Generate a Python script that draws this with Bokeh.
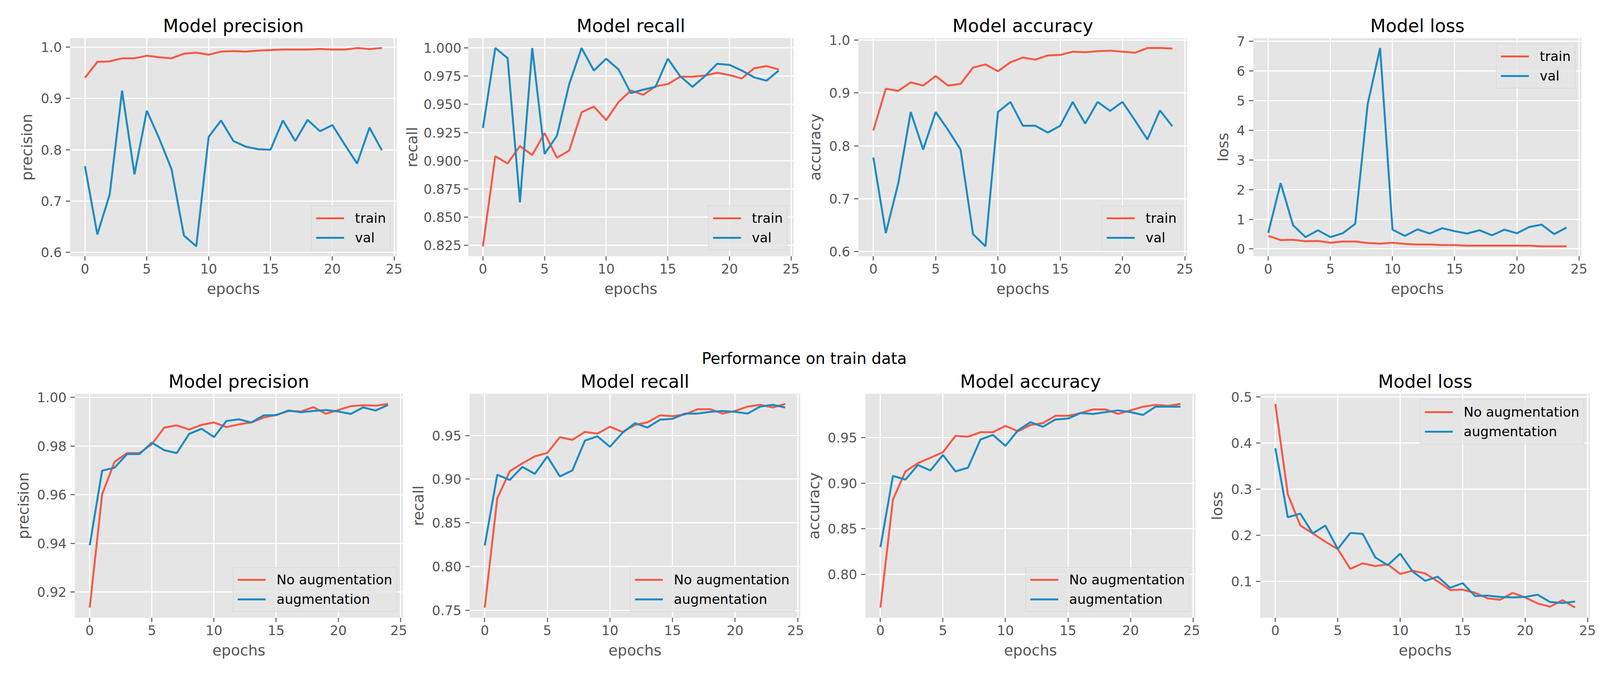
from bokeh.plotting import figure
from bokeh.layouts import column, row
from bokeh.models import Range1d, FixedTicker, PrintfTickFormatter, Title, Plot
from bokeh.embed import file_html
from bokeh.resources import INLINE

# ---------------- data ----------------
epochs = list(range(25))
x_ticks = [0, 5, 10, 15, 20, 25]

prec_train = [0.940, 0.971, 0.972, 0.978, 0.978, 0.983, 0.980, 0.978, 0.987, 0.989, 0.985, 0.991, 0.992,
              0.991, 0.993, 0.994, 0.995, 0.995, 0.995, 0.996, 0.995, 0.995, 0.998, 0.996, 0.998]
prec_val = [0.768, 0.635, 0.713, 0.915, 0.752, 0.876, 0.822, 0.762, 0.633, 0.612, 0.825, 0.857, 0.817,
            0.806, 0.801, 0.800, 0.857, 0.817, 0.858, 0.836, 0.848, 0.810, 0.773, 0.843, 0.799]

rec_train = [0.824, 0.904, 0.8975, 0.913, 0.905, 0.9245, 0.9026, 0.909, 0.943, 0.948, 0.936, 0.952, 0.9624,
             0.9584, 0.966, 0.968, 0.9745, 0.9745, 0.9756, 0.978, 0.976, 0.973, 0.982, 0.984, 0.981]
rec_val = [0.929, 1.000, 0.991, 0.863, 1.000, 0.906, 0.922, 0.968, 1.000, 0.980, 0.9905, 0.981, 0.960,
           0.963, 0.9655, 0.9905, 0.975, 0.9655, 0.975, 0.986, 0.985, 0.980, 0.974, 0.971, 0.980]

acc_train = [0.829, 0.908, 0.904, 0.920, 0.914, 0.932, 0.914, 0.917, 0.948, 0.954, 0.941, 0.958, 0.967,
             0.963, 0.971, 0.972, 0.978, 0.977, 0.979, 0.980, 0.978, 0.976, 0.985, 0.985, 0.984]
acc_val = [0.778, 0.635, 0.729, 0.864, 0.793, 0.864, 0.830, 0.793, 0.633, 0.610, 0.864, 0.883, 0.838,
           0.838, 0.825, 0.838, 0.883, 0.842, 0.883, 0.866, 0.883, 0.848, 0.812, 0.867, 0.837]

loss_train = [0.44, 0.30, 0.31, 0.26, 0.27, 0.21, 0.25, 0.25, 0.20, 0.18, 0.21, 0.17, 0.15,
              0.15, 0.13, 0.13, 0.11, 0.11, 0.11, 0.11, 0.11, 0.11, 0.09, 0.09, 0.09]
loss_val = [0.54, 2.22, 0.80, 0.40, 0.63, 0.40, 0.53, 0.85, 4.88, 6.77, 0.65, 0.44, 0.66,
            0.52, 0.70, 0.60, 0.52, 0.63, 0.46, 0.65, 0.53, 0.74, 0.82, 0.50, 0.72]

prec_noaug = [0.9136, 0.9602, 0.9735, 0.9771, 0.9771, 0.9808, 0.9876, 0.9885, 0.9868, 0.9887, 0.9897, 0.9878,
              0.9889, 0.9897, 0.9917, 0.9928, 0.9944, 0.9942, 0.9960, 0.9933, 0.9948, 0.9964, 0.9968, 0.9966, 0.9973]
prec_aug = [0.9392, 0.9699, 0.9711, 0.9767, 0.9767, 0.9814, 0.9783, 0.9771, 0.9850, 0.9871, 0.9837, 0.9903,
            0.9910, 0.9897, 0.9926, 0.9927, 0.9946, 0.9939, 0.9944, 0.9948, 0.9942, 0.9932, 0.9959, 0.9946, 0.9969]

rec_noaug = [0.753, 0.878, 0.909, 0.918, 0.926, 0.930, 0.948, 0.945, 0.954, 0.952, 0.960, 0.954, 0.962,
             0.965, 0.973, 0.972, 0.974, 0.980, 0.980, 0.975, 0.978, 0.983, 0.985, 0.982, 0.986]
rec_aug = [0.824, 0.905, 0.899, 0.914, 0.906, 0.926, 0.903, 0.910, 0.944, 0.949, 0.937, 0.953, 0.964,
           0.959, 0.968, 0.969, 0.975, 0.975, 0.977, 0.978, 0.977, 0.975, 0.983, 0.985, 0.982]

acc_noaug = [0.7635, 0.882, 0.913, 0.922, 0.928, 0.934, 0.952, 0.951, 0.956, 0.956, 0.963, 0.957, 0.964,
             0.966, 0.974, 0.974, 0.977, 0.981, 0.981, 0.976, 0.980, 0.984, 0.986, 0.985, 0.987]
acc_aug = [0.830, 0.908, 0.904, 0.920, 0.914, 0.931, 0.913, 0.917, 0.948, 0.953, 0.941, 0.958, 0.967,
           0.962, 0.970, 0.971, 0.977, 0.976, 0.978, 0.980, 0.978, 0.975, 0.984, 0.984, 0.984]

loss_noaug = [0.485, 0.289, 0.221, 0.204, 0.186, 0.170, 0.127, 0.139, 0.133, 0.137, 0.116, 0.123, 0.117,
              0.100, 0.081, 0.082, 0.075, 0.063, 0.060, 0.075, 0.065, 0.052, 0.045, 0.059, 0.043]
loss_aug = [0.389, 0.239, 0.247, 0.204, 0.221, 0.170, 0.205, 0.203, 0.152, 0.135, 0.160, 0.121, 0.101,
            0.110, 0.086, 0.096, 0.068, 0.069, 0.066, 0.065, 0.066, 0.071, 0.055, 0.053, 0.056]

top_names = ["train", "val"]
bottom_names = ["No augmentation", "augmentation"]
suptitle = "Performance on train data"

ticks_prec_top = [0.6, 0.7, 0.8, 0.9, 1.0]
ticks_rec_top = [0.825, 0.85, 0.875, 0.9, 0.925, 0.95, 0.975, 1.0]
ticks_acc_top = [0.6, 0.7, 0.8, 0.9, 1.0]
ticks_loss_top = [0, 1, 2, 3, 4, 5, 6, 7]
ticks_prec_bot = [0.92, 0.94, 0.96, 0.98, 1.00]
ticks_rec_bot = [0.75, 0.80, 0.85, 0.90, 0.95, 1.00]
ticks_acc_bot = [0.75, 0.80, 0.85, 0.90, 0.95, 1.00]
ticks_loss_bot = [0.1, 0.2, 0.3, 0.4, 0.5]

# ---------------- style ----------------
FONT = "DejaVu Sans"
RED = "#F65A45"
BLUE = "#1C8BC2"
BG = "#E5E5E5"
GREY = "#555555"
PAGE_MARGIN = 8


def pad_range(*series):
    lo = min(min(s) for s in series)
    hi = max(max(s) for s in series)
    span = hi - lo
    return lo - 0.05 * span, hi + 0.05 * span


def make_panel(title, ylabel, a, b, names, yticks, yfmt, loc, geom, ylab_standoff=(10, 10)):
    w, h, mbl, mbr, mbt, mbb = geom
    y0, y1 = pad_range(a, b)
    p = figure(width=w, height=h, min_border_left=mbl, min_border_right=mbr,
               min_border_top=mbt, min_border_bottom=mbb,
               x_range=Range1d(-1.2, 25.2), y_range=Range1d(y0, y1),
               output_backend="svg", toolbar_location=None, title=title)
    p.background_fill_color = BG
    p.border_fill_color = "white"
    p.outline_line_color = None
    p.title.text_font = FONT
    p.title.text_font_size = "46px"
    p.title.text_font_style = "normal"
    p.title.text_color = "black"
    p.title.align = "center"

    for ax in (p.xaxis[0], p.yaxis[0]):
        ax.axis_line_color = None
        ax.major_tick_line_color = GREY
        ax.major_tick_line_width = 2.5
        ax.major_tick_in = 0
        ax.major_tick_out = 11
        ax.minor_tick_line_color = None
        ax.major_label_text_font = FONT
        ax.major_label_text_font_size = "34px"
        ax.major_label_text_color = GREY
        ax.axis_label_text_font = FONT
        ax.axis_label_text_font_size = "38px"
        ax.axis_label_text_font_style = "normal"
        ax.axis_label_text_color = GREY

    p.xaxis.ticker = FixedTicker(ticks=x_ticks)
    p.xaxis.formatter = PrintfTickFormatter(format="%d")
    p.xaxis.axis_label = "epochs"
    p.xaxis.major_label_standoff = 8
    p.xaxis.axis_label_standoff = 14

    p.yaxis.ticker = FixedTicker(ticks=yticks)
    p.yaxis.formatter = PrintfTickFormatter(format=yfmt)
    p.yaxis.axis_label = ylabel
    p.yaxis.major_label_standoff = ylab_standoff[0]
    p.yaxis.axis_label_standoff = ylab_standoff[1]

    p.grid.grid_line_color = "white"
    p.grid.grid_line_width = 3

    p.line(epochs, a, line_color=RED, line_width=5, legend_label=names[0])
    p.line(epochs, b, line_color=BLUE, line_width=5, legend_label=names[1])

    lg = p.legend[0]
    lg.location = loc
    lg.margin = 15
    lg.padding = 11
    lg.spacing = 10
    lg.background_fill_color = BG
    lg.background_fill_alpha = 0.8
    lg.border_line_color = "#CCCCCC"
    lg.border_line_width = 1.5
    lg.border_line_alpha = 0.8
    lg.label_text_font = FONT
    lg.label_text_font_size = "34px"
    lg.label_text_color = "black"
    lg.label_standoff = 28
    lg.label_height = 40
    lg.glyph_width = 72
    lg.glyph_height = 40
    return p


# geometry: width, height, min_border left/right/top/bottom
TOP_H, TOP_T, TOP_B = 800, 97, 145
SUP_H = 140
BOT_H, BOT_T, BOT_B = 794, 67, 154
g1 = (1030, TOP_H, 179, 15, TOP_T, TOP_B)
g2 = (1018, TOP_H, 164, 17, TOP_T, TOP_B)
g3 = (1008, TOP_H, 149, 17, TOP_T, TOP_B)
g4 = (1048, TOP_H, 152, 56, TOP_T, TOP_B)
g5 = (1042, BOT_H, 191, 11, BOT_T, BOT_B)
g6 = (1016, BOT_H, 160, 10, BOT_T, BOT_B)
g7 = (1014, BOT_H, 155, 12, BOT_T, BOT_B)
g8 = (1032, BOT_H, 154, 34, BOT_T, BOT_B)

p1 = make_panel("Model precision", "precision", prec_train, prec_val, top_names, ticks_prec_top, "%.1f", "bottom_right", g1)
p2 = make_panel("Model recall", "recall", rec_train, rec_val, top_names, ticks_rec_top, "%.3f", "bottom_right", g2, (6, 4))
p3 = make_panel("Model accuracy", "accuracy", acc_train, acc_val, top_names, ticks_acc_top, "%.1f", "bottom_right", g3)
p4 = make_panel("Model loss", "loss", loss_train, loss_val, top_names, ticks_loss_top, "%d", "top_right", g4)
p5 = make_panel("Model precision", "precision", prec_noaug, prec_aug, bottom_names, ticks_prec_bot, "%.2f", "bottom_right", g5)
p6 = make_panel("Model recall", "recall", rec_noaug, rec_aug, bottom_names, ticks_rec_bot, "%.2f", "bottom_right", g6)
p7 = make_panel("Model accuracy", "accuracy", acc_noaug, acc_aug, bottom_names, ticks_acc_bot, "%.2f", "bottom_right", g7)
p8 = make_panel("Model loss", "loss", loss_noaug, loss_aug, bottom_names, ticks_loss_bot, "%.1f", "top_right", g8)

# Figure-level title in its own full-width strip between the two rows.
SUP_LEFT = 1804    # page x where the text starts
TOTAL_W = g1[0] + g2[0] + g3[0] + g4[0]
sup = Plot(width=TOTAL_W, height=SUP_H, min_border_left=0, min_border_right=0,
           min_border_top=SUP_H - 1, min_border_bottom=0,
           x_range=Range1d(0, 1), y_range=Range1d(0, 1),
           output_backend="svg", toolbar_location=None,
           outline_line_color=None, background_fill_color="white", border_fill_color="white")
sup.title = Title(text=suptitle, align="left", offset=SUP_LEFT - PAGE_MARGIN, standoff=0,
                  text_font=FONT, text_font_size="40px", text_font_style="normal", text_color="black")

layout = column(row(p1, p2, p3, p4), sup, row(p5, p6, p7, p8))
open("out.html", "w").write(file_html(layout, INLINE))
